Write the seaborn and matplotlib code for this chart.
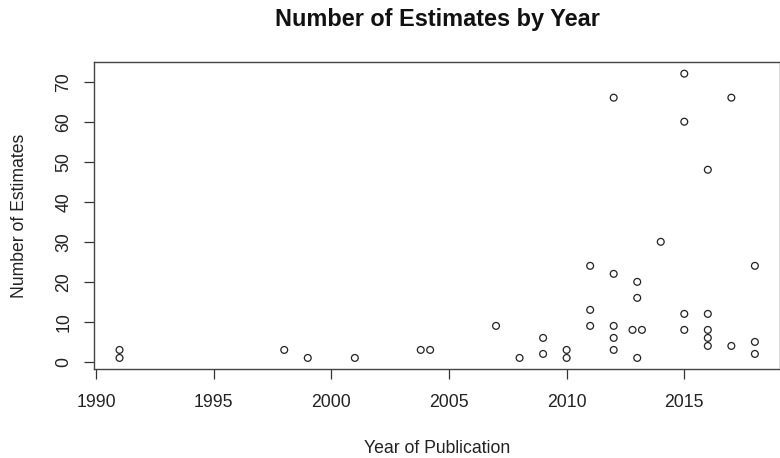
import matplotlib
matplotlib.use("Agg")
import matplotlib.pyplot as plt
import seaborn as sns
import pandas as pd

# year of publication and number of estimates
years = [1991, 1991, 1998, 1999, 2001, 2003.8, 2004.2, 2007, 2008,
         2009, 2009, 2010, 2010, 2011, 2011, 2011,
         2012, 2012, 2012, 2012, 2012, 2012.8, 2013, 2013, 2013, 2013.2,
         2014, 2015, 2015, 2015, 2015,
         2016, 2016, 2016, 2016, 2016, 2017, 2017, 2018, 2018, 2018]
estimates = [3, 1, 3, 1, 1, 3, 3, 9, 1,
             6, 2, 3, 1, 24, 13, 9,
             66, 22, 9, 6, 3, 8, 20, 16, 1, 8,
             30, 72, 60, 12, 8,
             48, 12, 8, 6, 4, 66, 4, 24, 5, 2]

x_ticks = [1990, 1995, 2000, 2005, 2010, 2015]
y_ticks = [0, 10, 20, 30, 40, 50, 60, 70]

df = pd.DataFrame({"Year": years, "Estimates": estimates})

sns.set_style("white")
plt.rcParams["font.family"] = ["Liberation Sans", "DejaVu Sans"]

W, H = 780, 458
fig = plt.figure(figsize=(W / 100, H / 100), dpi=100)
ax = fig.add_axes([94.1 / W, 1 - 369.3 / H, (780.3 - 94.1) / W, (369.3 - 62.3) / H])

sns.scatterplot(data=df, x="Year", y="Estimates", ax=ax, marker="o",
                s=24, facecolor="none", edgecolor="#222222", linewidth=0.9)

# R style 4% padding
xr = max(years) - min(years)
yr = max(estimates) - min(estimates)
ax.set_xlim(min(years) - 0.04 * xr, max(years) + 0.04 * xr)
ax.set_ylim(min(estimates) - 0.04 * yr, max(estimates) + 0.04 * yr)

ax.set_xticks(x_ticks)
ax.set_yticks(y_ticks)
ax.set_xticklabels([str(t) for t in x_ticks])
ax.set_yticklabels([str(t) for t in y_ticks])
ax.tick_params(axis="both", direction="out", length=7.5, width=0.9,
               color="#333333", labelsize=12.7, labelcolor="#222222",
               bottom=True, left=True)
ax.tick_params(axis="x", pad=10)
ax.tick_params(axis="y", pad=8)
plt.setp(ax.get_yticklabels(), rotation=90, va="center")

for sp in ax.spines.values():
    sp.set_visible(True)
    sp.set_color("#444444")
    sp.set_linewidth(1.0)

ax.set_xlabel("")
ax.set_ylabel("")
cx = (94.1 + 780.3) / 2 / W
cy = 1 - (62.3 + 369.3) / 2 / H
fig.text(cx, 1 - 26 / H, "Number of Estimates by Year", ha="center",
         va="baseline", fontsize=16.9, fontweight="bold", color="#111111")
fig.text(cx, 1 - 453 / H, "Year of Publication", ha="center",
         va="baseline", fontsize=12.7, color="#222222")
fig.text(24 / W, cy, "Number of Estimates", ha="center", va="baseline",
         rotation=90, rotation_mode="anchor", fontsize=12.7, color="#222222")

fig.savefig("out.png", dpi=100)
